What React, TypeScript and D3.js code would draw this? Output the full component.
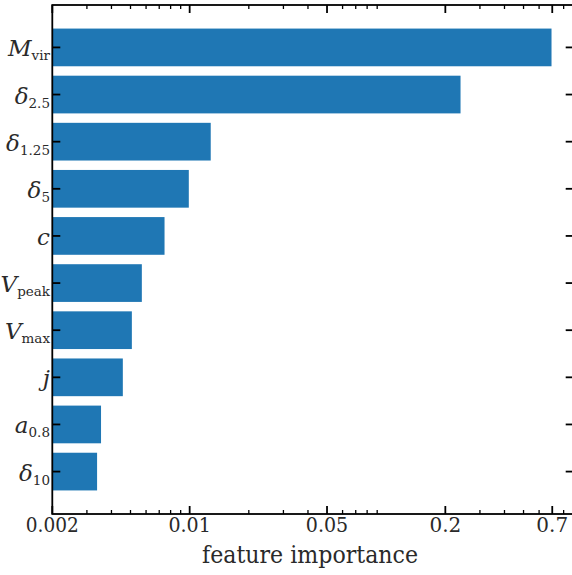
import React from "react";
import * as d3 from "d3";

const features = ["M", "δ", "δ", "δ", "c", "V", "V", "j", "a", "δ"];
const featureSubs = ["vir", "2.5", "1.25", "5", "", "peak", "max", "", "0.8", "10"];
const importances = [0.694, 0.239, 0.0128, 0.0099, 0.00745, 0.00571, 0.00508, 0.00457, 0.00354, 0.00338];
const majorTicks = [0.002, 0.01, 0.05, 0.2, 0.7];
const majorTickLabels = ["0.002", "0.01", "0.05", "0.2", "0.7"];
const xDomain = [0.002, 0.9];
const xLabel = "feature importance";

const W = 572;
const H = 575;
const left = 52.3;
const right = 573.7;
const top = 5;
const bottom = 514;

const FONT = "'DejaVu Serif', serif";

export default function App() {
  const x = d3.scaleLog().domain(xDomain).range([left, right]);
  const y = d3.scaleLinear().domain([-0.9, features.length - 0.1]).range([top, bottom]);
  const barH = y(0.8) - y(0);

  const minor: number[] = [];
  for (let e = -3; e <= 0; e++) {
    for (let m = 2; m <= 9; m++) {
      const v = m * Math.pow(10, e);
      if (v >= xDomain[0] * 0.9999 && v <= xDomain[1] * 1.0001 && !majorTicks.some((t) => Math.abs(t - v) / v < 1e-6)) minor.push(v);
    }
  }

  const stroke = "#000";
  const ts = { fontFamily: FONT } as React.CSSProperties;

  return (
    <svg width={W} height={H} style={{ position: "absolute", left: 0, top: 0, background: "#fff", fontFamily: FONT }}>
      <rect x={0} y={0} width={W} height={H} fill="#fff" />
      {importances.map((v, i) => (
        <rect key={i} x={x(xDomain[0])} y={y(i) - barH / 2} width={x(v) - x(xDomain[0])} height={barH} fill="#1f77b4" />
      ))}
      {minor.map((v, i) => (
        <g key={"mn" + i}>
          <line x1={x(v)} x2={x(v)} y1={bottom} y2={bottom - 4} stroke={stroke} strokeWidth={1.3} />
          <line x1={x(v)} x2={x(v)} y1={top} y2={top + 4} stroke={stroke} strokeWidth={1.3} />
        </g>
      ))}
      {majorTicks.map((v, i) => (
        <g key={"mj" + i}>
          <line x1={x(v)} x2={x(v)} y1={bottom} y2={bottom - 8} stroke={stroke} strokeWidth={1.8} />
          <line x1={x(v)} x2={x(v)} y1={top} y2={top + 8} stroke={stroke} strokeWidth={1.8} />
          <text x={x(v)} y={532} fontSize={20} textAnchor="middle" fill="#2a2a2a" style={ts} textLength={majorTickLabels[i].length * 10.6} lengthAdjust="spacingAndGlyphs">
            {majorTickLabels[i]}
          </text>
        </g>
      ))}
      {features.map((f, i) => (
        <g key={"y" + i}>
          <line x1={left} x2={left + 8} y1={y(i)} y2={y(i)} stroke={stroke} strokeWidth={1.8} />
          <line x1={right} x2={right - 8} y1={y(i)} y2={y(i)} stroke={stroke} strokeWidth={1.8} />
          <text x={50} y={y(i) + 9} textAnchor="end" fill="#2a2a2a" style={ts}>
            <tspan fontSize={23} fontStyle="italic">{f}</tspan>
            {featureSubs[i] ? (
              <tspan fontSize={13.5} dy={4}>{featureSubs[i]}</tspan>
            ) : null}
          </text>
        </g>
      ))}
      <rect x={left} y={top} width={right - left} height={bottom - top} fill="none" stroke={stroke} strokeWidth={1.8} />
      <text x={(left + right) / 2 - 3} y={563} fontSize={24} textAnchor="middle" fill="#2a2a2a" style={ts} textLength={216} lengthAdjust="spacingAndGlyphs">
        {xLabel}
      </text>
    </svg>
  );
}
